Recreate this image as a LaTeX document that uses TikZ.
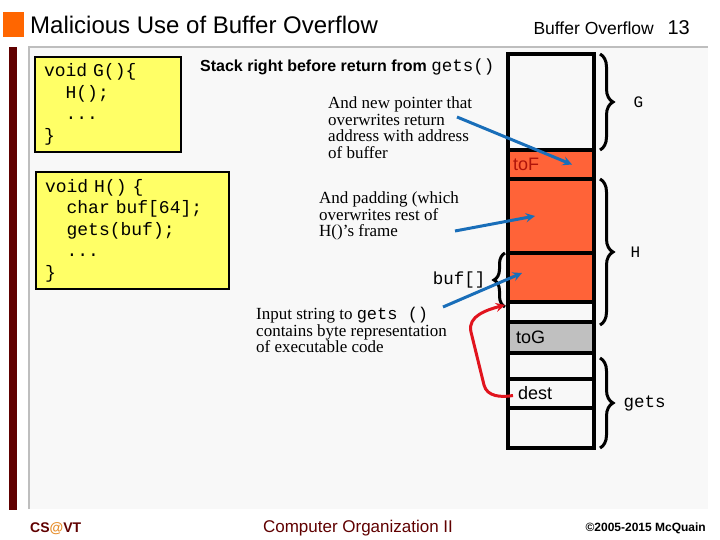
\documentclass[tikz,border=0pt]{standalone}
\usepackage{fontspec}
\setmainfont{Liberation Serif}
\setsansfont{Liberation Sans}
\setmonofont{Liberation Mono}[WordSpace={1,0,0}]
\usetikzlibrary{decorations.pathreplacing}
\definecolor{panelgray}{RGB}{248,248,248}
\definecolor{bordergray}{RGB}{190,190,190}
\definecolor{darkred}{RGB}{96,0,0}
\definecolor{slideorange}{RGB}{255,102,0}
\definecolor{atorange}{RGB}{230,140,40}
\definecolor{codeyellow}{RGB}{255,255,102}
\definecolor{stackorange}{RGB}{255,99,56}
\definecolor{stackgray}{RGB}{192,192,192}
\definecolor{tofred}{RGB}{175,20,10}
\definecolor{arrowblue}{RGB}{25,110,185}
\definecolor{arrowred}{RGB}{225,20,30}

\begin{document}
\begin{tikzpicture}[x=1pt, y=-1pt,
    cell/.style={draw, line width=3.5pt, outer sep=0pt, inner xsep=5pt, inner ysep=0pt,
        text width=76pt, align=left, minimum width=86pt, anchor=north west,
        font=\sffamily\fontsize{18}{20}\selectfont},
    code/.style={draw, line width=2.5pt, fill=codeyellow, outer sep=0pt, anchor=north west,
        inner xsep=9pt, align=left, font=\ttfamily\fontsize{18}{21.5}\selectfont},
    note/.style={anchor=north west, align=left, inner sep=0pt, font=\fontsize{17}{16.5}\selectfont},
    brace/.style={decorate, decoration={brace, amplitude=13pt}, line width=3pt},
    arrow/.style={->, line width=3pt, >=stealth},
    mono/.style={font=\ttfamily\fontsize{17.5}{20}\selectfont, inner sep=0pt}
]
    \useasboundingbox (0,0) rectangle (720,540);

    % Slide frame
    \fill[panelgray] (29,47) rectangle (708,509);
    \draw[bordergray, line width=2.5pt] (29,509) -- (29,47) -- (708,47);
    \fill[darkred] (9,47) rectangle (17,510);
    \fill[slideorange] (3,12) rectangle (24,37);

    % Header
    \node[anchor=base west, inner sep=0pt, font=\sffamily\fontsize{24}{26}\selectfont] (title) at (30,34) {Malicious Use of Buffer Overflow};
    \node[anchor=base east, inner sep=0pt, font=\sffamily\fontsize{20}{22}\selectfont] (pageno) at (690,35) {13};
    \node[anchor=base east, inner sep=0pt, font=\sffamily\fontsize{17.5}{20}\selectfont] (section) at (654,35) {Buffer Overflow};

    % Code
    \node[code, text width=128pt, minimum height=95pt] (codeG) at (35,57)
        {void G()\{\\\phantom{xx}H();\\\phantom{xx}...\\\}};
    \node[code, text width=175pt, minimum height=117pt] (codeH) at (36,172)
        {void H() \{\\\phantom{xx}char buf[64];\\\phantom{xx}gets(buf);\\\phantom{xx}...\\\}};

    % Stack
    \node[anchor=west, inner sep=0pt, font=\sffamily\bfseries\fontsize{16}{18}\selectfont] (stacktitle) at (200,67)
        {Stack right before return from {\ttfamily\mdseries\fontsize{17.5}{18}\selectfont gets()}};
    \node[cell, minimum height=96pt] (cG) at (508,54) {};
    \node[cell, fill=stackorange, text=tofred, minimum height=29pt] (cF) at (508,150) {toF};
    \node[cell, fill=stackorange, minimum height=74pt] (cPad) at (508,179) {};
    \node[cell, fill=stackorange, minimum height=49pt] (cBuf) at (508,253) {};
    \node[cell, minimum height=20pt] (cFree) at (508,302) {};
    \node[cell, fill=stackgray, minimum height=31pt] (cToG) at (508,322) {\hspace*{3pt}toG};
    \node[cell, minimum height=26pt] (cTop) at (508,353) {};
    \node[cell, minimum height=29pt] (cDest) at (508,379) {\hspace*{5pt}dest};
    \node[cell, minimum height=40pt] (cBottom) at (508,408) {};

    % Braces
    \draw[brace] ([xshift=6pt]cG.north east) -- ([xshift=6pt]cG.south east)
        node[mono, midway, anchor=west, xshift=32pt, font=\ttfamily\fontsize{16}{18}\selectfont] (lblG) {G};
    \draw[brace] ([xshift=6pt]cPad.north east) -- ([xshift=6pt,yshift=-3pt]cFree.south east)
        node[mono, midway, anchor=west, xshift=29pt, font=\ttfamily\fontsize{16}{18}\selectfont] (lblH) {H};
    \draw[brace] ([xshift=6pt,yshift=-5pt]cTop.north east) -- ([xshift=6pt]cBottom.south east)
        node[mono, midway, anchor=west, xshift=22pt] (lblGets) {gets};
    \draw[brace, decoration={amplitude=11pt}] ([xshift=-3pt,yshift=-5pt]cBuf.south west) -- ([xshift=-3pt]cBuf.north west)
        node[mono, midway, anchor=east, xshift=-18pt] (lblBuf) {buf[]};

    % Notes
    \node[note] (noteptr) at (328,97) {And new pointer that\\overwrites return\\address with address\\of buffer};
    \node[note] (notepad) at (319,192) {And padding (which\\overwrites rest of\\H()’s frame};
    \node[note] (notecode) at (256,307) {Input string to {\ttfamily gets ()}\\contains byte representation\\of executable code};

    % Arrows
    \coordinate (ptrTail) at (457,117);
    \coordinate (padTail) at (455,231);
    \coordinate (bufTail) at (443,307);
    \coordinate (codeTip) at (505,305);
    \draw[arrow, draw=arrowblue] (ptrTail) -- ([xshift=21pt]cF.center);
    \draw[arrow, draw=arrowblue] (padTail) -- ([xshift=-16pt]cPad.center);
    \draw[arrow, draw=arrowblue] (bufTail) -- ([xshift=-29pt,yshift=4.5pt]cBuf.center);
    \draw[arrow, draw=arrowred] ([xshift=5pt,yshift=-2pt]cDest.west) to[out=190, in=-76] (484,385)
        -- (471,332) to[out=104, in=195] (codeTip);

    % Footer
    \node[anchor=base west, inner sep=0pt, font=\sffamily\bfseries\fontsize{14}{16}\selectfont, text=darkred] (footleft) at (30,532)
        {CS{\color{atorange}@}VT};
    \node[anchor=base, inner sep=0pt, font=\sffamily\fontsize{17}{20}\selectfont, text=darkred] (footmid) at (358,532)
        {Computer Organization II};
    \node[anchor=base east, inner sep=0pt, font=\sffamily\bfseries\fontsize{12}{14}\selectfont] (footright) at (706,531)
        {©2005-2015 McQuain};
\end{tikzpicture}
\end{document}
